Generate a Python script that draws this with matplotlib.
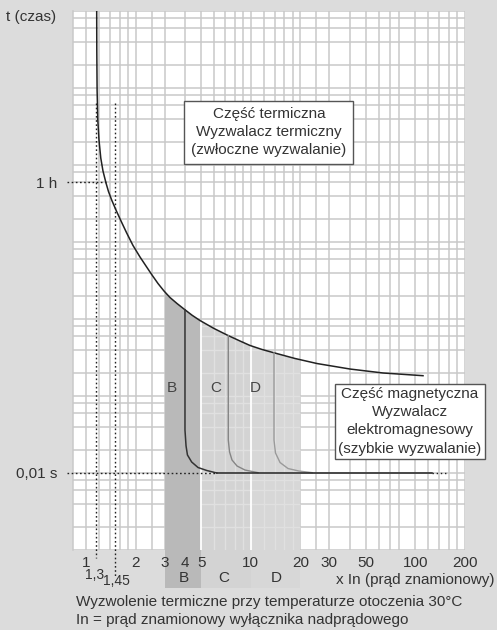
import numpy as np
import matplotlib.pyplot as plt
from matplotlib.patches import Polygon, Rectangle

plt.rcParams['font.family'] = ['Liberation Sans', 'DejaVu Sans']

# ── Data (x = multiple of In, t = tripping time on a schematic log scale) ──
thermal_x = [1.1615, 1.1631, 1.1680, 1.1795, 1.1994, 1.2296, 1.2681, 1.3229, 1.3694,
             1.4322, 1.5209, 1.6318, 1.7665, 1.9293, 2.1276, 2.3134, 2.5161, 2.7363,
             2.9758, 3.2362, 3.5688, 3.9912, 4.4018, 4.9207, 5.9862, 7.2818, 8.6103,
             9.9026, 11.712, 13.659, 18.578, 25.270, 40.078, 63.58, 111.2]
thermal_t = [1e4, 3116, 942, 384, 211.2, 123.3, 83.6, 58.4, 45.3,
             35.1, 26.0, 18.74, 13.09, 9.01, 6.39, 4.88, 3.73, 2.89,
             2.31, 1.902, 1.590, 1.317, 1.121, 0.956, 0.753, 0.611, 0.518,
             0.453, 0.402, 0.367, 0.307, 0.264, 0.224, 0.199, 0.1835]

curve_b_x = [3.99, 3.99, 4.05, 4.13, 4.38, 4.79, 5.41, 6.22]
curve_b_t = [1.317, 0.0361, 0.0225, 0.01715, 0.0139, 0.01178, 0.01078, 0.01]
curve_c_x = [7.31, 7.31, 7.44, 7.70, 8.26, 9.23, 11.07]
curve_c_t = [0.61, 0.0268, 0.01875, 0.01476, 0.01233, 0.01093, 0.0101]
curve_d_x = [13.85, 13.85, 14.14, 15.07, 16.85, 19.6, 23.6]
curve_d_t = [0.362, 0.0268, 0.01821, 0.01368, 0.01143, 0.01061, 0.0101]

band_names = ['B', 'C', 'D']
band_ranges = [(3, 5), (5, 10), (10, 20)]
band_colors = ['#b9b9b9', '#d3d3d3', '#d7d7d7']

T_HOUR = 60          # level labelled "1 h"
T_INST = 0.01        # level labelled "0,01 s"
inst_solid_end = 125.6
inst_dot_end = 155

marks_x = [1.155, 1.494]
marks_labels = ['1,3', '1,45']
marks_top = 638

x_ticks = [1, 2, 3, 4, 5, 10, 20, 30, 50, 100, 200]
x_grid = [1, 1.2, 1.4, 1.6, 1.8, 2, 2.5, 3, 4, 5, 6, 7, 8, 9, 10, 12, 14, 16, 18,
          20, 25, 30, 40, 50, 60, 70, 80, 100, 120, 140, 160, 180, 200]
y_grid = [m * 10.0 ** k for k in range(-3, 4) for m in (1, 2, 4, 6, 8)] + [1e4]

XMIN, XMAX = 0.834, 200
YMIN, YMAX = 1e-3, 1e4

TXT = '#333333'
GRID = '#c9c9c9'

fig = plt.figure(figsize=(4.97, 6.30), dpi=100, facecolor='#dcdcdc')
ax = fig.add_axes([73 / 497, 80 / 630, 392 / 497, 539 / 630])
ax.set_xscale('log')
ax.set_yscale('log')
ax.set_xlim(XMIN, XMAX)
ax.set_ylim(YMIN, YMAX)
ax.set_facecolor('white')

# grid, drawn below the bands
ax.vlines(x_grid, YMIN, YMAX, color=GRID, lw=1.1, zorder=0.5)
ax.hlines(y_grid, XMIN, XMAX, color=GRID, lw=1.1, zorder=0.5)
ax.minorticks_off()
for name, s in ax.spines.items():
    s.set_visible(name == 'left')
    s.set_color(GRID)
    s.set_linewidth(1.1)

ax.set_xticks(x_ticks, labels=[str(v) for v in x_ticks])
ax.set_yticks([T_INST, T_HOUR], labels=['0,01 s', '1 h'])
ax.tick_params(which='both', length=0, labelsize=11, labelcolor=TXT)
ax.tick_params(axis='x', pad=4)
ax.tick_params(axis='y', pad=11.5)

# region under the thermal curve (extends below the axes for the band labels)
t_low = 10 ** (-3 - 38 / 77)
under = Polygon(list(zip(thermal_x, thermal_t)) + [(thermal_x[-1], t_low), (thermal_x[0], t_low)],
                closed=True, transform=ax.transData)

for (x0, x1), col in zip(band_ranges, band_colors):
    r = Rectangle((x0, t_low), x1 - x0, 1e5, facecolor=col, edgecolor='none', zorder=1)
    r.set_clip_path(under)
    ax.add_patch(r)

# faint light grid showing through the C and D bands
x_cd = [v for v in x_grid if 5 < v < 20]
y_cd = [v for v in y_grid if YMIN < v < YMAX]
g1 = ax.vlines(x_cd, YMIN, YMAX, color='#e0e0e0', lw=1.0, zorder=1.2)
g2 = ax.hlines(y_cd, 5, 20, color='#e0e0e0', lw=1.0, zorder=1.2)
g1.set_clip_path(under)
g2.set_clip_path(under)

for xs in (5, 10):
    ln, = ax.plot([xs, xs], [t_low, 1e5], color='white', lw=1.3, zorder=1.5)
    ln.set_clip_path(under)

# band letters inside the plot and below the axis
for name, xp in zip(band_names, [3.33, 6.11, 10.6]):
    ax.text(xp, 0.127, name, fontsize=11, color='#444444', ha='center', va='center', zorder=3)
for name, xp in zip(band_names, [3.94, 6.88, 14.25]):
    ax.text(xp, -0.052, name, fontsize=11, color=TXT, ha='center', va='center',
            transform=ax.get_xaxis_transform(), clip_on=False, zorder=3)

# thermal curve
ax.plot(thermal_x, thermal_t, color='#222222', lw=1.1, zorder=4)

# magnetic curves
ax.plot(curve_d_x, curve_d_t, color='#9a9a9a', lw=1.0, zorder=4)
ax.plot(curve_c_x, curve_c_t, color='#858585', lw=1.0, zorder=4)
ax.plot(curve_b_x, curve_b_t, color='#333333', lw=1.1, zorder=5)
ax.plot([curve_b_x[-1], inst_solid_end], [T_INST, T_INST], color='#222222', lw=1.1, zorder=5)
ax.plot([inst_solid_end, inst_dot_end], [T_INST, T_INST], color='#222222', lw=1.0,
        ls=(0, (1, 2)), zorder=5)

# dotted guide lines
dot = dict(color='#222222', lw=1.0, ls=(0, (1.2, 1.8)), clip_on=False, zorder=5)
ax.plot([0.767, curve_b_x[-1]], [T_INST, T_INST], **dot)
ax.plot([0.767, 1.32], [T_HOUR, T_HOUR], **dot)
ax.plot([marks_x[0], marks_x[0]], [marks_top, 10 ** (-3 - 8 / 77)], **dot)
ax.plot([marks_x[1], marks_x[1]], [marks_top, 10 ** (-3 - 27 / 77)], **dot)
ax.text(1.134, -0.046, marks_labels[0], fontsize=10, color=TXT, ha='center',
        va='center', transform=ax.get_xaxis_transform(), clip_on=False)
ax.text(1.53, -0.058, marks_labels[1], fontsize=10, color=TXT, ha='center',
        va='center', transform=ax.get_xaxis_transform(), clip_on=False)

# annotation boxes
ax.text(12.9, 265, 'Część termiczna\nWyzwalacz termiczny\n(zwłoczne wyzwalanie)',
        fontsize=11, color=TXT, ha='center', va='center', multialignment='center',
        linespacing=1.36, zorder=6,
        bbox=dict(boxstyle='square,pad=0.45', facecolor='white', edgecolor='#555555', lw=1.0))
ax.text(92.5, 0.0469, 'Część magnetyczna\nWyzwalacz\nelektromagnesowy\n(szybkie wyzwalanie)',
        fontsize=11, color=TXT, ha='center', va='center', multialignment='center',
        linespacing=1.38, zorder=6, clip_on=False,
        bbox=dict(boxstyle='square,pad=0.22', facecolor='white', edgecolor='#555555', lw=1.0))

# figure texts
fig.text(6 / 497, 1 - 16.7 / 630, 't (czas)', fontsize=11, color=TXT, va='center')
fig.text(495 / 497, 1 - 580 / 630, 'x In (prąd znamionowy)', fontsize=11, color=TXT,
         ha='right', va='center')
fig.text(76 / 497, 1 - 601.7 / 630, 'Wyzwolenie termiczne przy temperaturze otoczenia 30°C',
         fontsize=11, color=TXT, va='center')
fig.text(76 / 497, 1 - 620 / 630, 'In = prąd znamionowy wyłącznika nadprądowego',
         fontsize=11, color=TXT, va='center')

fig.savefig('out.png', dpi=100, facecolor=fig.get_facecolor())
